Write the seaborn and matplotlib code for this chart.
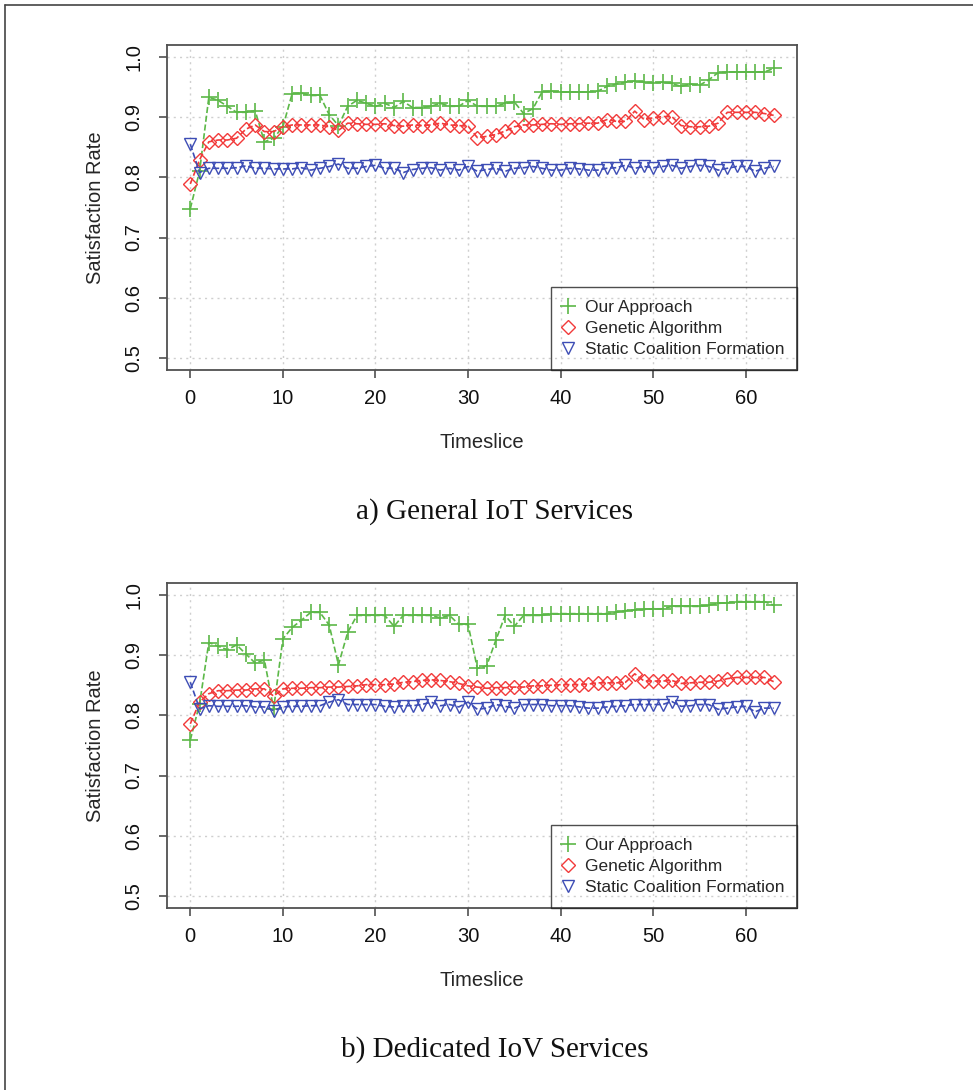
import matplotlib
matplotlib.use("Agg")
import matplotlib.pyplot as plt
from matplotlib.lines import Line2D
import seaborn as sns
import pandas as pd

# --- data ---
timeslice = list(range(64))

general_ours = [0.748, 0.810, 0.933, 0.928, 0.918, 0.908, 0.908, 0.911, 0.859, 0.865,
                0.884, 0.939, 0.940, 0.936, 0.936, 0.904, 0.886, 0.918, 0.928, 0.923,
                0.918, 0.923, 0.916, 0.926, 0.916, 0.916, 0.918, 0.923, 0.918, 0.918,
                0.928, 0.918, 0.918, 0.918, 0.923, 0.925, 0.906, 0.914, 0.942, 0.943,
                0.942, 0.942, 0.942, 0.942, 0.943, 0.951, 0.955, 0.958, 0.960, 0.958,
                0.957, 0.958, 0.956, 0.951, 0.955, 0.953, 0.962, 0.974, 0.975, 0.975,
                0.975, 0.975, 0.975, 0.981]
general_ga = [0.789, 0.829, 0.859, 0.862, 0.862, 0.865, 0.880, 0.887, 0.876, 0.876,
              0.884, 0.887, 0.887, 0.887, 0.887, 0.884, 0.878, 0.890, 0.889, 0.888,
              0.888, 0.889, 0.886, 0.885, 0.887, 0.886, 0.887, 0.890, 0.887, 0.886,
              0.885, 0.866, 0.868, 0.871, 0.877, 0.884, 0.887, 0.887, 0.888, 0.889,
              0.888, 0.889, 0.889, 0.890, 0.890, 0.896, 0.893, 0.893, 0.910, 0.896,
              0.899, 0.901, 0.901, 0.886, 0.884, 0.884, 0.885, 0.890, 0.908, 0.908,
              0.908, 0.908, 0.906, 0.903]
general_static = [0.855, 0.808, 0.815, 0.815, 0.815, 0.816, 0.819, 0.815, 0.815, 0.814,
                  0.814, 0.814, 0.816, 0.812, 0.815, 0.818, 0.822, 0.815, 0.815, 0.818,
                  0.820, 0.815, 0.815, 0.808, 0.813, 0.815, 0.816, 0.812, 0.815, 0.812,
                  0.818, 0.810, 0.813, 0.815, 0.810, 0.815, 0.816, 0.818, 0.815, 0.812,
                  0.812, 0.815, 0.814, 0.812, 0.812, 0.815, 0.816, 0.820, 0.815, 0.818,
                  0.816, 0.818, 0.820, 0.815, 0.818, 0.820, 0.818, 0.812, 0.815, 0.818,
                  0.818, 0.810, 0.815, 0.818]

iov_ours = [0.759, 0.819, 0.921, 0.915, 0.909, 0.917, 0.902, 0.887, 0.892, 0.811,
            0.927, 0.946, 0.958, 0.971, 0.971, 0.950, 0.884, 0.938, 0.966, 0.966,
            0.966, 0.966, 0.948, 0.966, 0.966, 0.966, 0.966, 0.962, 0.966, 0.951,
            0.951, 0.878, 0.882, 0.925, 0.966, 0.948, 0.966, 0.966, 0.966, 0.969,
            0.969, 0.969, 0.969, 0.969, 0.969, 0.969, 0.971, 0.974, 0.975, 0.976,
            0.977, 0.977, 0.981, 0.981, 0.981, 0.981, 0.983, 0.986, 0.987, 0.989,
            0.989, 0.989, 0.989, 0.983]
iov_ga = [0.786, 0.822, 0.836, 0.841, 0.841, 0.842, 0.842, 0.844, 0.844, 0.832,
          0.844, 0.845, 0.845, 0.846, 0.846, 0.847, 0.847, 0.848, 0.849, 0.851,
          0.851, 0.851, 0.852, 0.855, 0.856, 0.858, 0.859, 0.858, 0.856, 0.853,
          0.849, 0.847, 0.845, 0.846, 0.846, 0.847, 0.847, 0.849, 0.849, 0.850,
          0.851, 0.851, 0.851, 0.852, 0.854, 0.854, 0.854, 0.855, 0.869, 0.857,
          0.857, 0.857, 0.858, 0.853, 0.854, 0.855, 0.855, 0.857, 0.861, 0.863,
          0.863, 0.863, 0.863, 0.856]
iov_static = [0.855, 0.811, 0.816, 0.815, 0.815, 0.815, 0.816, 0.814, 0.814, 0.808,
              0.814, 0.815, 0.815, 0.816, 0.816, 0.822, 0.826, 0.818, 0.818, 0.818,
              0.818, 0.815, 0.814, 0.816, 0.816, 0.818, 0.822, 0.816, 0.818, 0.814,
              0.822, 0.810, 0.812, 0.818, 0.815, 0.812, 0.818, 0.818, 0.818, 0.816,
              0.816, 0.816, 0.814, 0.812, 0.812, 0.814, 0.815, 0.816, 0.818, 0.818,
              0.818, 0.818, 0.823, 0.815, 0.816, 0.818, 0.818, 0.810, 0.812, 0.814,
              0.815, 0.806, 0.812, 0.812]

series_names = ["Our Approach", "Genetic Algorithm", "Static Coalition Formation"]
series_colors = ["#5cb848", "#f23a3a", "#3d4db5"]
series_markers = ["+", "D", "v"]
captions = ["a) General IoT Services", "b) Dedicated IoV Services"]

sns.set_style("white")
plt.rcParams["font.family"] = ["Liberation Sans", "DejaVu Sans"]

frame_col = "#505050"
fig = plt.figure(figsize=(9.73, 10.9), dpi=100)


def marker_kw(col, mk):
    # open markers like R's pch 3 / 5 / 6
    if mk == "+":
        return dict(marker=mk, markersize=11, markerfacecolor=col,
                    markeredgecolor=col, markeredgewidth=1.2)
    return dict(marker=mk, markersize=7.5 if mk == "D" else 9, markerfacecolor="none",
                markeredgecolor=col, markeredgewidth=1.0)


def draw_panel(ax, values, caption):
    df = pd.DataFrame({"t": timeslice})
    for name, vals in zip(series_names, values):
        df[name] = vals
    for name, col, mk in zip(series_names, series_colors, series_markers):
        sns.lineplot(data=df, x="t", y=name, ax=ax, color=col, linestyle="--",
                     linewidth=1.2, legend=False, **marker_kw(col, mk))

    ax.set_xlim(-2.52, 65.52)
    ax.set_ylim(0.48, 1.02)
    ax.set_xticks([0, 10, 20, 30, 40, 50, 60])
    ax.set_yticks([0.5, 0.6, 0.7, 0.8, 0.9, 1.0])
    ax.set_yticklabels(["0.5", "0.6", "0.7", "0.8", "0.9", "1.0"], rotation=90, va="center")
    ax.grid(True, linestyle=(0, (1.5, 3)), color="#cfcfcf", linewidth=1.0)
    ax.set_axisbelow(True)
    for sp in ax.spines.values():
        sp.set_color(frame_col)
        sp.set_linewidth(1.3)
    ax.tick_params(axis="both", direction="out", length=6, width=1.2, color=frame_col,
                   labelsize=14.5, labelcolor="#111111", left=True, bottom=True)
    ax.tick_params(axis="x", pad=8)
    ax.tick_params(axis="y", pad=11)
    ax.set_xlabel("Timeslice", fontsize=14.5, labelpad=18)
    ax.set_ylabel("Satisfaction Rate", fontsize=14.5, labelpad=14)

    handles = [Line2D([], [], linestyle="none", color=col, **marker_kw(col, mk))
               for col, mk in zip(series_colors, series_markers)]
    leg = ax.legend(handles, series_names, loc="lower right", bbox_to_anchor=(1.0, 0.0),
                    borderaxespad=0, fontsize=12.5, frameon=True, fancybox=False,
                    handlelength=0.5, handletextpad=0.75, labelspacing=0.36,
                    borderpad=0.72)
    leg.get_frame().set_facecolor("none")
    leg.get_frame().set_edgecolor("#222222")
    leg.get_frame().set_linewidth(1.0)

    # caption under the panel
    pos = ax.get_position()
    fig.text(0.508, pos.y0 - 0.13, caption, ha="center", va="center",
             fontsize=21, family=["Liberation Serif", "DejaVu Serif"], color="#111111")


ax1 = fig.add_axes([0.1716, 0.6606, 0.6475, 0.2982])
draw_panel(ax1, [general_ours, general_ga, general_static], captions[0])
ax2 = fig.add_axes([0.1716, 0.1670, 0.6475, 0.2982])
draw_panel(ax2, [iov_ours, iov_ga, iov_static], captions[1])

# outer page border (top and left)
fig.add_artist(Line2D([0.005, 1.0], [0.9955, 0.9955], color="#444444", linewidth=1.2,
                      transform=fig.transFigure))
fig.add_artist(Line2D([0.005, 0.005], [0.0, 0.9955], color="#444444", linewidth=1.2,
                      transform=fig.transFigure))

fig.savefig("out.png", dpi=100)
